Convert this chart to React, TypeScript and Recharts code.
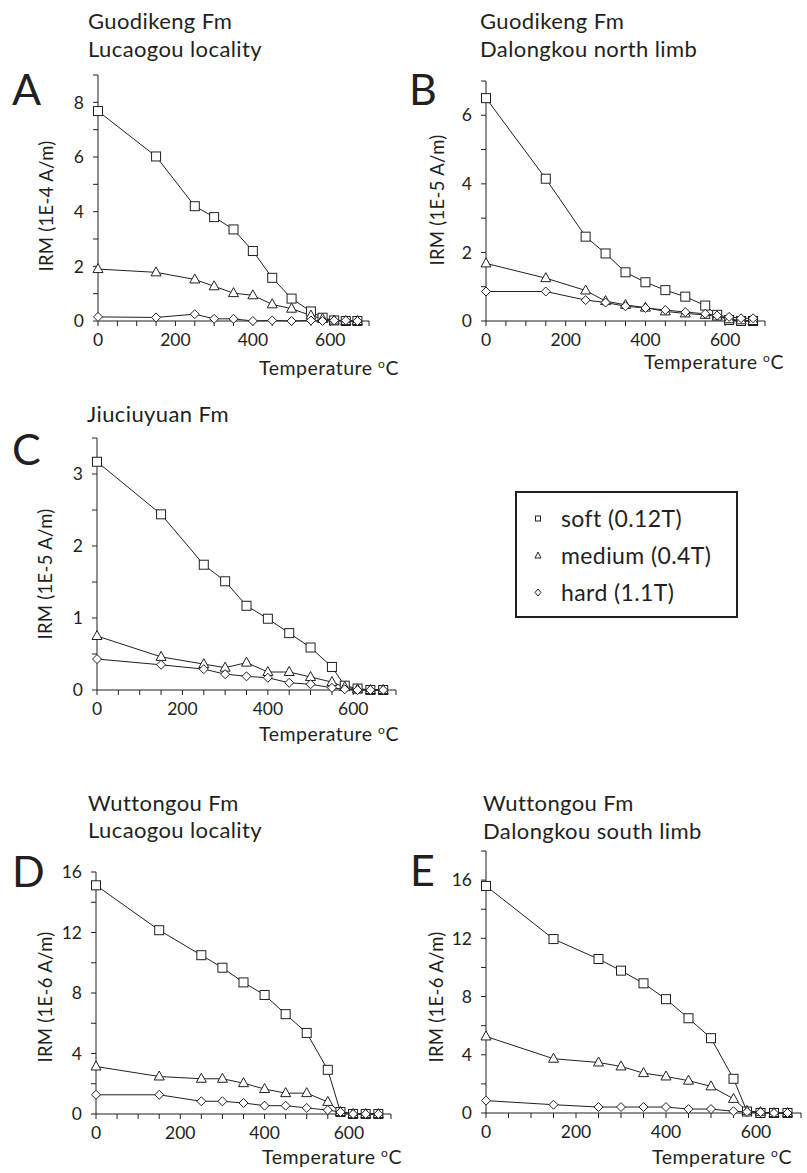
import React from 'react';
import { LineChart, Line, XAxis, YAxis } from 'recharts';

const INK = '#231f20';
const FONT = 'Lato, "Open Sans", sans-serif';

// heating steps (°C), shared by all samples
const temps = [0, 150, 250, 300, 350, 400, 450, 500, 550, 580, 610, 640, 670];

const xTicks = [0, 50, 100, 150, 200, 250, 300, 350, 400, 450, 500, 550, 600, 650, 700];
const xLabels = [0, 200, 400, 600];

// A - Guodikeng Fm, Lucaogou locality (1E-4 A/m)
const softA = [7.68, 6.02, 4.2, 3.8, 3.35, 2.56, 1.58, 0.82, 0.35, 0.12, 0.02, 0, 0];
const mediumA = [1.9, 1.78, 1.52, 1.27, 1.02, 0.94, 0.61, 0.45, 0.2, 0.08, 0.02, 0, 0];
const hardA = [0.15, 0.13, 0.25, 0.08, 0.08, 0, 0.02, 0, 0.02, 0, 0.02, 0.02, 0];
const yTicksA = [0, 1, 2, 3, 4, 5, 6, 7, 8, 9];
const yLabelsA = [0, 2, 4, 6, 8];

// B - Guodikeng Fm, Dalongkou north limb (1E-5 A/m)
const softB = [6.5, 4.15, 2.46, 1.97, 1.42, 1.13, 0.9, 0.71, 0.45, 0.18, 0.03, 0, 0];
const mediumB = [1.68, 1.25, 0.89, 0.58, 0.47, 0.39, 0.28, 0.22, 0.18, 0.13, 0.05, 0.02, 0];
const hardB = [0.86, 0.86, 0.61, 0.54, 0.43, 0.38, 0.32, 0.26, 0.21, 0.16, 0.12, 0.08, 0.08];
const yTicksB = [0, 1, 2, 3, 4, 5, 6, 7];
const yLabelsB = [0, 2, 4, 6];

// C - Jiuciuyuan Fm (1E-5 A/m)
const softC = [3.17, 2.44, 1.74, 1.51, 1.17, 0.99, 0.79, 0.59, 0.32, 0.06, 0.02, 0, 0];
const mediumC = [0.75, 0.46, 0.36, 0.31, 0.38, 0.25, 0.25, 0.18, 0.11, 0.04, 0.01, 0, 0];
const hardC = [0.43, 0.35, 0.29, 0.22, 0.19, 0.17, 0.1, 0.08, 0.03, 0.01, 0, 0, 0];
const yTicksC = [0, 0.5, 1, 1.5, 2, 2.5, 3, 3.5];
const yLabelsC = [0, 1, 2, 3];

// D - Wuttongou Fm, Lucaogou locality (1E-6 A/m)
const softD = [15.12, 12.15, 10.5, 9.67, 8.7, 7.87, 6.6, 5.36, 2.92, 0.13, 0, 0, 0];
const mediumD = [3.14, 2.48, 2.33, 2.33, 2.04, 1.65, 1.38, 1.38, 0.8, 0.13, 0, 0, 0];
const hardD = [1.27, 1.27, 0.84, 0.84, 0.73, 0.55, 0.55, 0.4, 0.26, 0.13, 0, 0, 0];
const yTicksD = [0, 2, 4, 6, 8, 10, 12, 14, 16];
const yLabelsD = [0, 4, 8, 12, 16];

// E - Wuttongou Fm, Dalongkou south limb (1E-6 A/m)
const softE = [15.6, 11.95, 10.58, 9.78, 8.91, 7.82, 6.51, 5.14, 2.35, 0.1, 0, 0, 0];
const mediumE = [5.26, 3.73, 3.47, 3.2, 2.74, 2.51, 2.22, 1.83, 0.97, 0.14, 0.06, 0, 0];
const hardE = [0.85, 0.57, 0.41, 0.41, 0.41, 0.41, 0.27, 0.27, 0.12, 0.08, 0.05, 0, 0];
const yTicksE = [0, 2, 4, 6, 8, 10, 12, 14, 16, 18];
const yLabelsE = [0, 4, 8, 12, 16];

const legendItems = ['soft (0.12T)', 'medium (0.4T)', 'hard (1.1T)'];

const rows = (soft: number[], medium: number[], hard: number[]) =>
  temps.map((t, i) => ({ t, soft: soft[i], medium: medium[i], hard: hard[i] }));

const SquareDot = (p: any) =>
  p.cx == null ? null : (
    <rect key={`s${p.index}`} x={p.cx - 4.5} y={p.cy - 4.5} width={9} height={9} fill="#fff" stroke={INK} strokeWidth={1} />
  );
const TriangleDot = (p: any) =>
  p.cx == null ? null : (
    <polygon key={`t${p.index}`} points={`${p.cx},${p.cy - 5.5} ${p.cx + 5},${p.cy + 3.5} ${p.cx - 5},${p.cy + 3.5}`} fill="#fff" stroke={INK} strokeWidth={1} />
  );
const DiamondDot = (p: any) =>
  p.cx == null ? null : (
    <polygon key={`d${p.index}`} points={`${p.cx},${p.cy - 4.5} ${p.cx + 4.5},${p.cy} ${p.cx},${p.cy + 4.5} ${p.cx - 4.5},${p.cy}`} fill="#fff" stroke={INK} strokeWidth={1} />
  );

interface PanelProps {
  x0: number;
  y0: number;
  plotW: number;
  plotH: number;
  yTicks: number[];
  yLabels: number[];
  data: { t: number; soft: number; medium: number; hard: number }[];
}

function Panel({ x0, y0, plotW, plotH, yTicks, yLabels, data }: PanelProps) {
  const padL = 60, padT = 10, padR = 15, axisH = 40;
  const yMax = yTicks[yTicks.length - 1];
  return (
    <div style={{ position: 'absolute', left: x0 - padL, top: y0 - plotH - padT }}>
      <LineChart
        width={plotW + padL + padR}
        height={plotH + padT + axisH}
        data={data}
        margin={{ top: padT, right: padR, left: 0, bottom: 0 }}
      >
        <XAxis
          dataKey="t"
          type="number"
          domain={[0, 700]}
          ticks={xTicks}
          interval={0}
          tickFormatter={(v) => (xLabels.includes(v) ? String(v) : '')}
          height={axisH}
          stroke={INK}
          tickSize={5}
          tickMargin={8}
          tick={{ fill: INK, fontSize: 17.5, fontFamily: FONT }}
        />
        <YAxis
          type="number"
          domain={[0, yMax]}
          ticks={yTicks}
          interval={0}
          tickFormatter={(v) => (yLabels.includes(v) ? String(v) : '')}
          width={padL}
          stroke={INK}
          tickSize={5}
          tickMargin={9}
          tick={{ fill: INK, fontSize: 17.5, fontFamily: FONT }}
        />
        <Line dataKey="soft" stroke={INK} strokeWidth={1} dot={SquareDot} isAnimationActive={false} />
        <Line dataKey="medium" stroke={INK} strokeWidth={1} dot={TriangleDot} isAnimationActive={false} />
        <Line dataKey="hard" stroke={INK} strokeWidth={1} dot={DiamondDot} isAnimationActive={false} />
      </LineChart>
    </div>
  );
}

const Txt = ({ x, y, size, weight = 400, spacing = 0, children }: { x: number; y: number; size: number; weight?: number; spacing?: number; children: React.ReactNode }) => (
  <div style={{ position: 'absolute', left: x, top: y, transform: 'translateY(-50%)', fontSize: size, fontWeight: weight, letterSpacing: spacing, lineHeight: 1, whiteSpace: 'nowrap', fontFamily: FONT, color: INK }}>
    {children}
  </div>
);

const Title = ({ x, y, children }: { x: number; y: number; children: React.ReactNode }) => (
  <Txt x={x} y={y} size={22} spacing={0.4}>{children}</Txt>
);

const Letter = ({ x, y, children }: { x: number; y: number; children: React.ReactNode }) => (
  <Txt x={x} y={y} size={43} weight={400}>{children}</Txt>
);

const YLabel = ({ x, y, unit }: { x: number; y: number; unit: string }) => (
  <div style={{ position: 'absolute', left: x, top: y, transform: 'translate(-50%, -50%) rotate(-90deg)', fontSize: 18.5, letterSpacing: 0.3, lineHeight: 1, whiteSpace: 'nowrap', fontFamily: FONT, color: INK }}>
    IRM ({unit} A/m)
  </div>
);

const TempLabel = ({ x, y }: { x: number; y: number }) => (
  <Txt x={x} y={y} size={19.5} spacing={0.5}>
    Temperature <span style={{ fontSize: 12, position: 'relative', top: -7 }}>o</span>C
  </Txt>
);

export default function App() {
  return (
    <div style={{ position: 'absolute', left: 0, top: 0, width: 807, height: 1173, background: '#fff', fontFamily: FONT }}>
      {/* A */}
      <Title x={88} y={21}>Guodikeng Fm</Title>
      <Title x={88} y={49}>Lucaogou locality</Title>
      <Letter x={12} y={88}>A</Letter>
      <YLabel x={46} y={206} unit="1E-4" />
      <Panel x0={98} y0={321} plotW={271} plotH={246} yTicks={yTicksA} yLabels={yLabelsA} data={rows(softA, mediumA, hardA)} />
      <TempLabel x={259} y={368} />

      {/* B */}
      <Title x={480} y={21}>Guodikeng Fm</Title>
      <Title x={480} y={49}>Dalongkou north limb</Title>
      <Letter x={409} y={88}>B</Letter>
      <YLabel x={437} y={200} unit="1E-5" />
      <Panel x0={486} y0={321} plotW={279} plotH={240} yTicks={yTicksB} yLabels={yLabelsB} data={rows(softB, mediumB, hardB)} />
      <TempLabel x={644} y={362} />

      {/* C */}
      <Title x={87} y={414}>Jiuciuyuan Fm</Title>
      <Letter x={12} y={448}>C</Letter>
      <YLabel x={45} y={574} unit="1E-5" />
      <Panel x0={97} y0={690} plotW={299} plotH={252} yTicks={yTicksC} yLabels={yLabelsC} data={rows(softC, mediumC, hardC)} />
      <TempLabel x={259} y={734} />

      {/* legend */}
      <div style={{ position: 'absolute', left: 515, top: 491, width: 219, height: 123, border: `2px solid ${INK}` }}>
        {legendItems.map((name, i) => (
          <div key={name} style={{ position: 'absolute', left: 0, top: 25 + i * 37, transform: 'translateY(-50%)', display: 'flex', alignItems: 'center', whiteSpace: 'nowrap' }}>
            <svg width={44} height={12} style={{ display: 'block' }}>
              {i === 0 && <rect x={18.5} y={3.5} width={5} height={5} fill="#fff" stroke={INK} strokeWidth={1} />}
              {i === 1 && <polygon points="21,2.5 24,8.5 18,8.5" fill="#fff" stroke={INK} strokeWidth={1} />}
              {i === 2 && <polygon points="21,2.5 24,6 21,9.5 18,6" fill="#fff" stroke={INK} strokeWidth={1} />}
            </svg>
            <span style={{ fontSize: 23, letterSpacing: 0.4, lineHeight: 1, fontFamily: FONT, color: INK }}>{name}</span>
          </div>
        ))}
      </div>

      {/* D */}
      <Title x={88} y={803}>Wuttongou Fm</Title>
      <Title x={88} y={830}>Lucaogou locality</Title>
      <Letter x={12} y={870}>D</Letter>
      <YLabel x={45} y={997} unit="1E-6" />
      <Panel x0={96} y0={1114} plotW={295} plotH={242} yTicks={yTicksD} yLabels={yLabelsD} data={rows(softD, mediumD, hardD)} />
      <TempLabel x={262} y={1157} />

      {/* E */}
      <Title x={483} y={803}>Wuttongou Fm</Title>
      <Title x={483} y={831}>Dalongkou south limb</Title>
      <Letter x={410} y={869}>E</Letter>
      <YLabel x={436} y={997} unit="1E-6" />
      <Panel x0={486} y0={1113} plotW={315} plotH={262} yTicks={yTicksE} yLabels={yLabelsE} data={rows(softE, mediumE, hardE)} />
      <TempLabel x={652} y={1157} />
    </div>
  );
}
